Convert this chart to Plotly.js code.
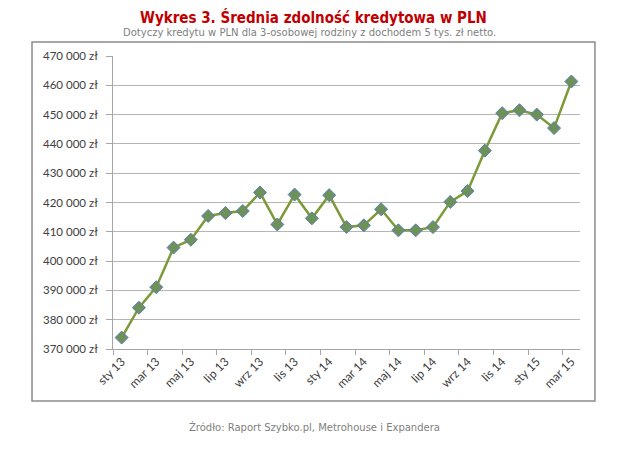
<!DOCTYPE html>
<html>
<head>
<meta charset="utf-8">
<script src="https://cdn.plot.ly/plotly-3.0.1.min.js"></script>
<style>html,body{margin:0;padding:0;background:#fff}#chart{width:640px;height:449px}</style>
</head>
<body>
<div id="chart"></div>
<script>
const months = ["sty 13","lut 13","mar 13","kwi 13","maj 13","cze 13","lip 13","sie 13","wrz 13","paź 13","lis 13","gru 13",
  "sty 14","lut 14","mar 14","kwi 14","maj 14","cze 14","lip 14","sie 14","wrz 14","paź 14","lis 14","gru 14",
  "sty 15","lut 15","mar 15"];
const values = [373900,384100,391100,404600,407300,415400,416400,417100,423400,412500,422700,414600,
  422500,411600,412200,417700,410500,410500,411600,420200,423900,437700,450500,451500,450000,445400,461300];
const titleText = "Wykres 3. Średnia zdolność kredytowa w PLN";
const subtitleText = "Dotyczy kredytu w PLN dla 3-osobowej rodziny z dochodem 5 tys. zł netto.";
const sourceText = "Źródło: Raport Szybko.pl, Metrohouse i Expandera";

const trace = {
  x: months, y: values, type: "scatter", mode: "lines+markers",
  line: {color: "#7d9a38", width: 2.5},
  marker: {symbol: "diamond", size: 10, color: "#6e9059", line: {color: "#5a80b8", width: 1}},
  hoverinfo: "skip"
};

const layout = {
  width: 640, height: 449,
  margin: {l: 113, r: 60, t: 56, b: 100},
  paper_bgcolor: "#fff", plot_bgcolor: "#fff",
  showlegend: false,
  separators: ", ",
  font: {family: "Lato, 'Open Sans', sans-serif", size: 11, color: "#404040"},
  xaxis: {
    type: "category", range: [-0.5, 26.5], dtick: 2, tickson: "boundaries",
    tickangle: -45, ticks: "outside", ticklen: 5, tickcolor: "#a6a6a6",
    showline: true, linecolor: "#a6a6a6", linewidth: 1, showgrid: false,
    tickfont: {family: "Lato, sans-serif", size: 12, color: "#404040"}
  },
  yaxis: {
    range: [370000, 470000], dtick: 10000, tickformat: ",d", ticksuffix: " zł",
    ticks: "outside", ticklen: 6, tickcolor: "#a6a6a6", ticklabelstandoff: 6,
    showline: true, linecolor: "#a6a6a6", linewidth: 1,
    showgrid: true, gridcolor: "#b5b5b5", gridwidth: 1, zeroline: false,
    tickfont: {family: "Lato, sans-serif", size: 11.5, color: "#404040"}
  },
  shapes: [{
    type: "rect", xref: "paper", yref: "paper",
    x0: -0.1734, x1: 1.032, y0: -0.1775, y1: 1.0478,
    line: {color: "#8c8c8c", width: 1.5}
  }],
  annotations: [
    {text: "<b>" + titleText + "</b>", xref: "paper", yref: "paper", x: (313-113)/467, y: 1 + (56-17)/293,
     showarrow: false, xanchor: "center", yanchor: "middle",
     font: {family: "'DejaVu Sans Condensed', 'DejaVu Sans', sans-serif", size: 15, color: "#c00000"}},
    {text: subtitleText, xref: "paper", yref: "paper", x: (309-113)/467, y: 1 + (56-33)/293,
     showarrow: false, xanchor: "center", yanchor: "middle",
     font: {family: "'DejaVu Sans', Verdana, sans-serif", size: 10, color: "#808080"}},
    {text: sourceText, xref: "paper", yref: "paper", x: (314-113)/467, y: -(427-349)/293,
     showarrow: false, xanchor: "center", yanchor: "middle",
     font: {family: "'DejaVu Sans', Verdana, sans-serif", size: 10, color: "#808080"}}
  ]
};

Plotly.newPlot("chart", [trace], layout, {staticPlot: true, displayModeBar: false});
</script>
</body>
</html>
